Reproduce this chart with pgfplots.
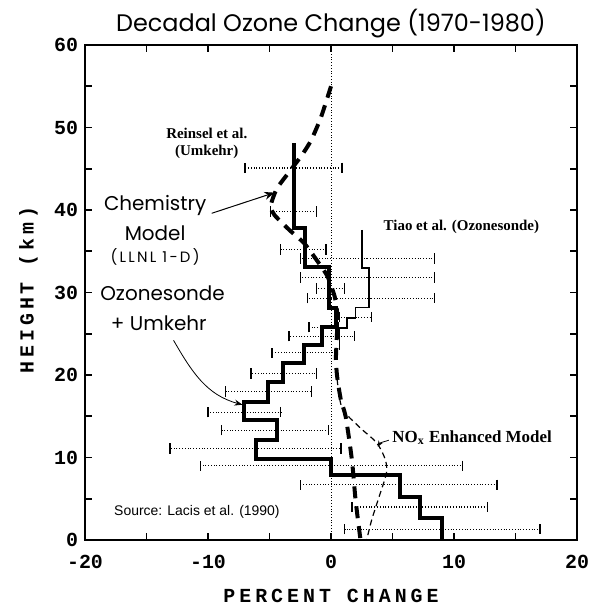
\documentclass[border=0pt]{standalone}
\usepackage{fontspec}
\usepackage{pgfplots}
\pgfplotsset{compat=1.18}
\setmainfont{Liberation Serif}
\newfontfamily\titlefont{Poppins}
\newfontfamily\spacedsans[LetterSpace=15]{Poppins}
\newfontfamily\monofont{Liberation Mono}
\newfontfamily\spacedmono[LetterSpace=20]{Liberation Mono}
\newfontfamily\sansfont{Liberation Sans}
\usetikzlibrary{arrows.meta}

\begin{document}
\begin{tikzpicture}
\begin{axis}[
    name=ax,
    width=246bp, height=247.5bp, scale only axis,
    xmin=-20, xmax=20, ymin=0, ymax=60,
    xtick={-20,-10,0,10,20},
    ytick={0,10,20,30,40,50,60},
    minor tick num=1,
    tick align=inside,
    major tick length=3.5bp, minor tick length=3.5bp,
    tick style={line width=0.8pt, black},
    axis line style={line width=1pt},
    /pgf/number format/assume math mode=true,
    ticklabel style={font=\monofont\bfseries\fontsize{10}{12}\selectfont},
    xticklabel style={yshift=-4bp},
    clip=false,
]

% zero line
\addplot[densely dotted, thin] coordinates {(0,0) (0,60)};

% error bars (centre +- half width)
\addplot[draw=none, mark=none,
    error bars/.cd, x dir=both, x explicit,
    error bar style={densely dotted, line width=0.6pt},
    error mark options={solid, line width=0.7pt, mark size=2.6bp, rotate=90}]
coordinates {
    (-3.05,45.1) +- (3.95,0)
    (-3.05,39.8) +- (1.85,0)
    (-2.25,35.2) +- (1.85,0)
    (2.95,34.1) +- (5.45,0)
    (2.95,31.8) +- (5.45,0)
    (-0.05,30.5) +- (1.15,0)
    (3.25,29.3) +- (5.15,0)
    (2.0,27.0) +- (1.3,0)
    (-0.6,25.8) +- (1.2,0)
    (-0.75,24.7) +- (2.65,0)
    (-2.2,22.7) +- (2.6,0)
    (-3.85,20.2) +- (2.65,0)
    (-5.1,18.0) +- (3.5,0)
    (-7.05,15.5) +- (2.95,0)
    (-4.55,13.3) +- (4.35,0)
    (-6.15,11.1) +- (6.95,0)
    (0.05,9.0) +- (10.65,0)
    (5.5,6.7) +- (8.0,0)
    (7.2,4.0) +- (5.5,0)
    (9.05,1.3) +- (7.95,0)
};

% Tiao et al. (Ozonesonde)
\addplot[line width=0.8bp] coordinates {
    (2.5,37.6) (2.5,33.0) (3.1,33.0) (3.1,28.2) (2.0,28.2) (2.0,26.9)
    (1.3,26.9) (1.3,25.7) (0.7,25.7) (0.7,23.0)
};

% Ozonesonde + Umkehr
\addplot[line width=2bp] coordinates {
    (9,0) (9,2.7) (7.2,2.7) (7.2,5.2) (5.6,5.2) (5.6,7.9) (0,7.9)
    (0,9.8) (-6.1,9.8) (-6.1,12.1) (-4.4,12.1) (-4.4,14.5) (-7.1,14.5)
    (-7.1,16.7) (-5.1,16.7) (-5.1,19.2) (-3.9,19.2) (-3.9,21.5)
    (-2.2,21.5) (-2.2,23.6) (-0.7,23.6) (-0.7,25.8) (0.4,25.8)
    (0.4,28.1) (-0.2,28.1) (-0.2,33.1) (-2.1,33.1) (-2.1,37.8)
    (-3.0,37.8) (-3.0,48.1)
};

% Chemistry model (LLNL 1-D)
\addplot[line width=2bp, dash pattern=on 6bp off 4bp, smooth, tension=0.4] coordinates {
    (0,55) (-0.8,51.3) (-1.6,48.5) (-2.3,46.8) (-3.3,44.8) (-4.4,42.6)
    (-4.9,40.5) (-4.6,39.4) (-3.4,37.6) (-2.2,36) (-1.2,34) (-0.3,32)
    (0.3,29.5) (0.5,27.5) (0.5,25.5) (0.4,22) (0.5,19.8) (0.8,17)
    (1.2,14.9) (1.7,9.7) (2.0,4.8) (2.4,0)
};

% NOx enhanced model
\addplot[line width=0.6bp, dash pattern=on 3bp off 2bp, smooth, tension=0.5] coordinates {
    (0.5,19.5) (0.9,16) (2.3,13.7) (3.7,11.8) (4.4,9.8) (4.5,8.1)
    (3.9,5.2) (3.3,2.4) (2.9,0)
};

% annotations
\node[font=\titlefont\fontsize{12}{14}\selectfont] at (axis cs:0,62.6) {Decadal Ozone Change (1970-1980)};
\node[font=\spacedmono\bfseries\fontsize{10}{12}\selectfont] at (axis cs:0,-6.8) {PERCENT CHANGE};
\node[font=\spacedmono\bfseries\fontsize{10}{12}\selectfont, rotate=90] at (axis cs:-24.6,30.3) {HEIGHT (km)};

\node[font=\bfseries\fontsize{7.5}{8.5}\selectfont, align=center] at (axis cs:-10.1,48.1) {Reinsel et al.\\(Umkehr)};
\node[font=\titlefont\fontsize{10}{11}\selectfont] at (axis cs:-14.3,40.6) {Chemistry};
\node[font=\titlefont\fontsize{10}{11}\selectfont] at (axis cs:-14.3,37.2) {Model};
\node[font=\spacedsans\fontsize{7.5}{9}\selectfont] at (axis cs:-14.3,34.3) {(LLNL 1-D)};
\node[font=\titlefont\fontsize{10}{11}\selectfont] at (axis cs:-13.7,29.9) {Ozonesonde};
\node[font=\titlefont\fontsize{10}{11}\selectfont] at (axis cs:-14.0,26.3) {+ Umkehr};
\node[font=\bfseries\fontsize{7.5}{8.5}\selectfont] at (axis cs:10.6,37.9) {Tiao et al. (Ozonesonde)};
\node[font=\bfseries\fontsize{8.5}{10}\selectfont, anchor=west, inner sep=1pt] at (axis cs:4.8,12.4) {NO\textsubscript{x} Enhanced Model};
\node[font=\sansfont\fontsize{7}{8}\selectfont] at (axis cs:-10.9,3.4) {Source: Lacis et al. (1990)};

\draw[-{Stealth[length=5bp,width=4bp]}, line width=0.5pt] (axis cs:-9.7,39.6) -- (axis cs:-4.6,42.1);
\draw[-{Stealth[length=4bp,width=3bp]}, line width=0.4pt] (axis cs:-12.8,24.2) to[out=-60,in=165] (axis cs:-7.2,16.4);
\draw[-{Stealth[length=3bp,width=2.5bp]}, line width=0.4pt] (axis cs:4.7,12.1) to[out=200,in=60] (axis cs:3.8,11.3);
\end{axis}
\pgfresetboundingbox
\path ([shift={(-42.5bp,-33bp)}]ax.south west) rectangle ([shift={(7.5bp,22.5bp)}]ax.north east);
\end{tikzpicture}
\end{document}
